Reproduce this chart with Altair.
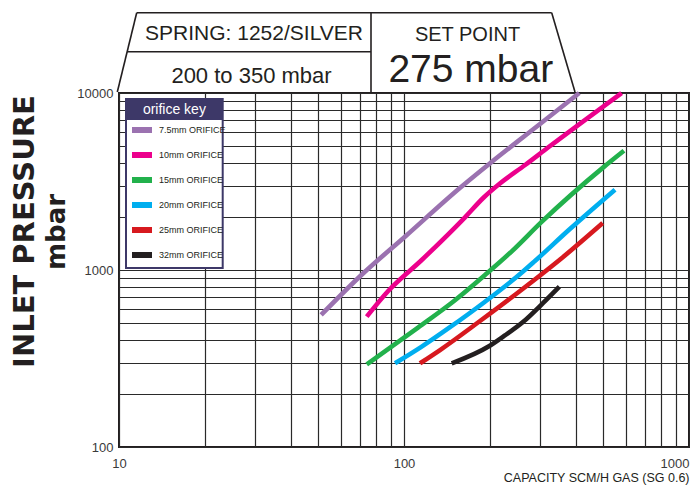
import altair as alt
import pandas as pd

# ---------------- data ----------------
series = ["7.5mm ORIFICE", "10mm ORIFICE", "15mm ORIFICE",
          "20mm ORIFICE", "25mm ORIFICE", "32mm ORIFICE"]
colors = ["#9b72b0", "#ec008c", "#22b14c", "#00aeef", "#d7191f", "#231f20"]

x_75 = [51.2, 71.8, 101, 157, 200, 300, 412]
y_75 = [557, 955, 1547, 2906, 4000, 6680, 10000]

x_10 = [74, 88, 115.4, 163.7, 190, 217, 266, 321, 580]
y_10 = [545, 761, 1139, 1985, 2560, 3080, 3920, 4935, 10000]

x_15 = [74, 112, 149.8, 192.4, 238.8, 304, 500.4, 591.4]
y_15 = [293, 473, 668, 937, 1275, 1870, 3800, 4720]

x_20 = [93, 115.4, 145, 192.4, 257.3, 288, 382, 550]
y_20 = [297, 369, 475, 662, 958, 1124, 1704, 2842]

x_25 = [113.8, 133.8, 184.8, 255.3, 354.6, 498]
y_25 = [297, 353, 515, 761, 1154, 1843]

x_32 = [147, 199.3, 225.2, 262.1, 306.6, 350.7]
y_32 = [297, 372, 425.5, 510, 648, 805]

x_grid = [10, 20, 30, 40, 50, 60, 70, 80, 90,
          100, 200, 300, 400, 500, 600, 700, 800, 900, 1000]
y_grid = [100, 200, 300, 400, 500, 600, 700, 800, 900,
          1000, 2000, 3000, 4000, 5000, 6000, 7000, 8000, 9000, 10000]
x_labels = [10, 100, 1000]
y_labels = [100, 1000, 10000]

header_texts = ["SPRING: 1252/SILVER", "200 to 350 mbar", "SET POINT", "275 mbar"]
x_title = "CAPACITY SCM/H GAS (SG 0.6)"
y_title = ["INLET PRESSURE", "mbar"]
legend_title = "orifice key"

rows = []
for name, xs, ys in zip(series, [x_75, x_10, x_15, x_20, x_25, x_32],
                        [y_75, y_10, y_15, y_20, y_25, y_32]):
    for i, (a, b) in enumerate(zip(xs, ys)):
        rows.append({"orifice": name, "capacity": a, "pressure": b, "i": i})
df = pd.DataFrame(rows)

INK = "#231f20"
NAVY = "#3d3868"
one = pd.DataFrame({"k": [0]})


def label_expr(vals):
    return "indexof([" + ",".join(str(v) for v in vals) + "], datum.value) >= 0 ? datum.label : ''"


lines = alt.Chart(df).mark_line(strokeWidth=4.6, interpolate="monotone").encode(
    x=alt.X("capacity:Q",
            scale=alt.Scale(type="log", domain=[10, 1000]),
            axis=alt.Axis(values=x_grid, format="d", labelExpr=label_expr(x_labels),
                          title=x_title, titleFontSize=12.5,
                          titleFontWeight="normal", titleColor=INK,
                          titleX=570, titleY=34.5, titleAlign="right",
                          titleBaseline="alphabetic",
                          labelAlign=alt.condition("datum.value >= 1000",
                                                   alt.value("right"), alt.value("center")),
                          labelFlush=False, labelPadding=10)),
    y=alt.Y("pressure:Q",
            scale=alt.Scale(type="log", domain=[100, 10000]),
            axis=alt.Axis(values=y_grid, format="d", labelExpr=label_expr(y_labels),
                          title=None, labelPadding=6, labelBaseline="middle")),
    color=alt.Color("orifice:N", scale=alt.Scale(domain=series, range=colors),
                    legend=alt.Legend(title=None, orient="none", legendX=10, legendY=24,
                                      symbolType="stroke", symbolSize=400,
                                      symbolStrokeWidth=6, symbolOpacity=1,
                                      labelFontSize=9, labelFont="Liberation Sans",
                                      labelColor=INK, labelOffset=4, rowPadding=0,
                                      padding=0)),
    order="i:Q",
)


def seg(x1, y1, x2, y2, w=1.6):
    return alt.Chart(one).mark_rule(color=INK, strokeWidth=w).encode(
        x=alt.value(x1), y=alt.value(y1), x2=alt.value(x2), y2=alt.value(y2))


def txt(s, x, y, size, weight="normal", color=INK, angle=0, baseline="alphabetic",
        font="Liberation Sans"):
    return alt.Chart(pd.DataFrame({"t": [s]})).mark_text(
        fontSize=size, fontWeight=weight, color=color, angle=angle,
        baseline=baseline, align="center", font=font).encode(
        x=alt.value(x), y=alt.value(y), text="t:N")


frame = [
    seg(17.7, -80.3, 432.7, -80.3),
    seg(17.7, -80.3, -1.7, -1),
    seg(432.7, -80.3, 456, -1),
    seg(252, -80.3, 252, 0),
    seg(8.2, -41.3, 252, -41.3),
]

texts = [
    txt(header_texts[0], 135, -53, 21),
    txt(header_texts[1], 132.5, -10, 22),
    txt(header_texts[2], 348.5, -52.3, 20),
    txt(header_texts[3], 351.8, -11.3, 39),
    txt(y_title[0], -94, 138.5, 29, weight="bold", angle=270, baseline="middle",
        font="DejaVu Sans"),
    txt(y_title[1], -62, 139, 26, weight="bold", angle=270, baseline="middle",
        font="DejaVu Sans"),
]

legend_box = alt.Chart(one).mark_rect(fill="white", stroke=NAVY, strokeWidth=2).encode(
    x=alt.value(7), x2=alt.value(103.7), y=alt.value(6), y2=alt.value(175))
legend_head = alt.Chart(one).mark_rect(fill=NAVY).encode(
    x=alt.value(7), x2=alt.value(103.7), y=alt.value(6), y2=alt.value(27))
legend_text = txt(legend_title, 55.4, 17, 14, color="white", baseline="middle")

chart = alt.layer(lines, legend_box, legend_head, legend_text, *frame, *texts).properties(
    width=570, height=354,
    autosize=alt.AutoSizeParams(type="none"),
    padding={"left": 111, "top": 85, "right": 1, "bottom": 38},
).configure_view(
    stroke=INK, strokeWidth=2
).configure_axis(
    grid=True, gridColor="#2a2a2a", gridWidth=1.2, ticks=False, domain=False,
    labelFont="Liberation Sans", labelFontSize=13, labelColor="#3a3a3a",
    titleFont="Liberation Sans"
)

chart.save("out.html", embed_options={"renderer": "svg", "actions": False})
